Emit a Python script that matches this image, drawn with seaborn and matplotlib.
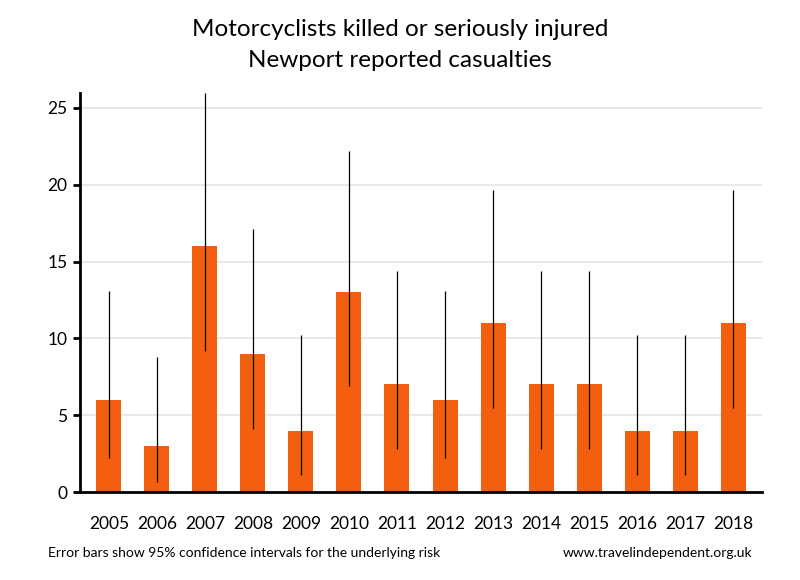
import matplotlib
matplotlib.use("Agg")
import matplotlib.pyplot as plt
import seaborn as sns
import pandas as pd

# data
years = ["2005", "2006", "2007", "2008", "2009", "2010", "2011",
         "2012", "2013", "2014", "2015", "2016", "2017", "2018"]
casualties = [6, 3, 16, 9, 4, 13, 7, 6, 11, 7, 7, 4, 4, 11]
ci_low = [2.20, 0.62, 9.15, 4.12, 1.09, 6.92, 2.81, 2.20, 5.49, 2.81, 2.81, 1.09, 1.09, 5.49]
ci_high = [13.06, 8.77, 25.98, 17.09, 10.24, 22.23, 14.42, 13.06, 19.68, 14.42, 14.42, 10.24, 10.24, 19.68]
y_ticks = [0, 5, 10, 15, 20, 25]

df = pd.DataFrame({"Year": years, "Casualties": casualties})

sns.set_style("white")
plt.rcParams["font.family"] = ["Lato", "DejaVu Sans"]
plt.rcParams["text.color"] = "black"

fig = plt.figure(figsize=(8, 5.8), dpi=100)
ax = fig.add_axes([0.1, 0.1517, 0.8525, 0.6886])

sns.barplot(data=df, x="Year", y="Casualties", color="#F45F0F",
            saturation=1, width=0.52, errorbar=None, linewidth=0,
            ax=ax, zorder=2)

# 95% confidence intervals, drawn as plain lines without caps
ax.vlines(range(len(years)), ci_low, ci_high, color="black", linewidth=0.9, zorder=3)

ax.set_xlim(-0.6, len(years) - 0.4)
ax.set_ylim(0, 26)
ax.set_yticks(y_ticks)
ax.yaxis.grid(True, color="#e6e6e6", linewidth=1.3, zorder=0)
ax.set_axisbelow(True)
ax.set_xlabel("")
ax.set_ylabel("")

for side in ["top", "right"]:
    ax.spines[side].set_visible(False)
for side in ["left", "bottom"]:
    ax.spines[side].set_color("black")
    ax.spines[side].set_linewidth(2)

ax.tick_params(axis="y", left=True, length=5, width=2, color="black",
               labelsize=12.5, labelcolor="black", pad=4)
ax.tick_params(axis="x", bottom=False, labelsize=12.5, labelcolor="black", pad=14)

fig.text(0.5, 0.95, "Motorcyclists killed or seriously injured",
         ha="center", va="center", fontsize=17.5, color="black")
fig.text(0.5, 0.895, "Newport reported casualties",
         ha="center", va="center", fontsize=17.5, color="black")
fig.text(0.06, 0.046, "Error bars show 95% confidence intervals for the underlying risk",
         ha="left", va="center", fontsize=10, color="black")
fig.text(0.94, 0.046, "www.travelindependent.org.uk",
         ha="right", va="center", fontsize=10, color="black")

plt.savefig("out.png", dpi=100)
plt.close()
